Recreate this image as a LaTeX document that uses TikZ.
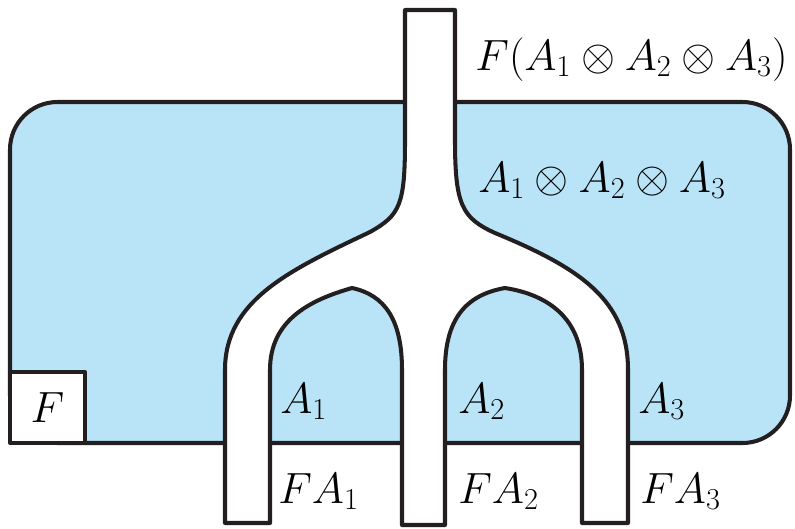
\documentclass[tikz,border=0pt]{standalone}
\usepackage{amsmath,amssymb}
\usetikzlibrary{positioning}
\definecolor{regionblue}{RGB}{185,228,247}
\definecolor{inkline}{RGB}{35,31,32}

\begin{document}
\begin{tikzpicture}[x=0.02cm,y=-0.02cm]
\tikzset{
  wire/.style={draw=inkline,line width=2.3pt,line join=round},
  region/.style={wire,fill=regionblue,rounded corners=0.95cm},
  tube/.style={wire,fill=white},
  lbl/.style={inner sep=0pt,anchor=base west,font=\fontsize{24.5}{28}\selectfont},
  boxnode/.style={wire,fill=white,minimum width=1.5cm,minimum height=1.42cm,inner sep=0pt,font=\fontsize{24.5}{28}\selectfont}
}
\useasboundingbox (0,0) rectangle (795,528);
% shaded region
\draw[region] (10,102) rectangle (790,443);
% the tube
\draw[tube] (405,10) -- (455,10) -- (455,140)
  .. controls (455,205) and (462,218) .. (495,233)
  .. controls (580,268) and (628,300) .. (628,370) -- (628,523) -- (582,523) -- (582,370)
  .. controls (582,320) and (550,295) .. (505,288)
  .. controls (465,295) and (445,320) .. (445,370) -- (445,525) -- (402,525) -- (402,370)
  .. controls (402,320) and (385,295) .. (352,288)
  .. controls (310,300) and (270,320) .. (270,370) -- (270,523) -- (225,523) -- (225,370)
  .. controls (225,300) and (290,270) .. (370,232)
  .. controls (400,215) and (405,205) .. (405,140) -- cycle;
\node[boxnode] (boxF) at (47.5,407.5) {$F$};
% labels
\node[lbl] (top) at (475,70) {$F(A_1\otimes A_2\otimes A_3)$};
\node[lbl] (inner) at (478,192) {$A_1\otimes A_2\otimes A_3$};
\node[lbl] (a1) at (280,413) {$A_1$};
\node[lbl] (a2) at (458,413) {$A_2$};
\node[lbl] (a3) at (638,413) {$A_3$};
\node[lbl] (fa1) at (278,503) {$FA_1$};
\node[lbl] (fa2) at (458,503) {$FA_2$};
\node[lbl] (fa3) at (640,503) {$FA_3$};
\end{tikzpicture}
\end{document}
